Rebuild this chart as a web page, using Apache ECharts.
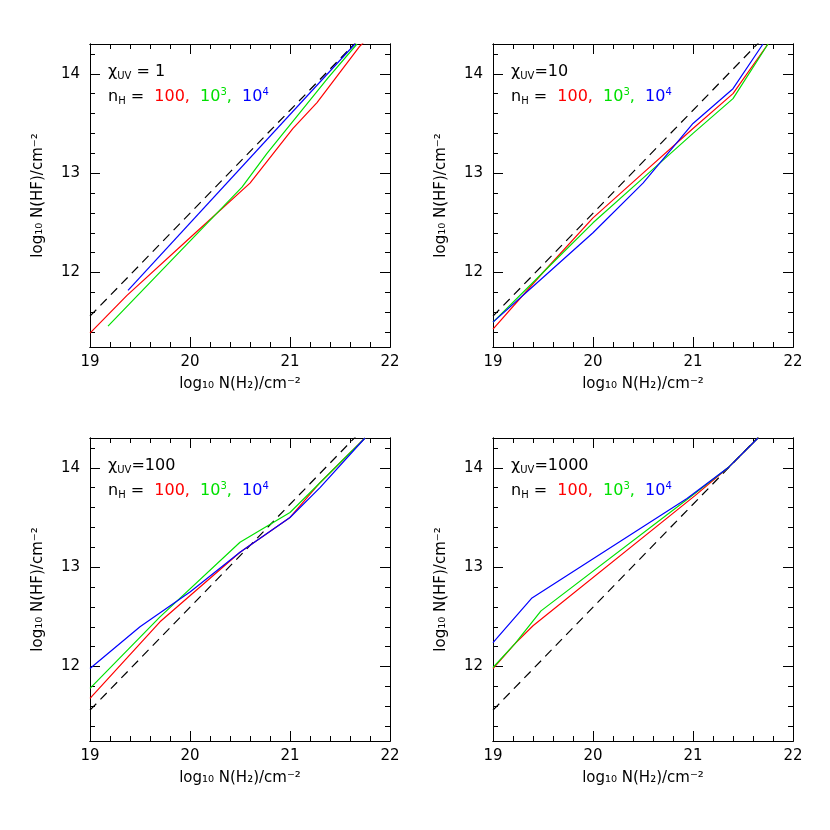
<!DOCTYPE html>
<html><head><meta charset="utf-8">
<script src="https://cdn.jsdelivr.net/npm/echarts@6/dist/echarts.min.js"></script>
<style>html,body{margin:0;padding:0;background:#fff}#c{width:830px;height:830px}</style>
</head><body><div id="c"></div>
<script>
const chiLabels = ['1','10','100','1000'];
const xTicks = [19,20,21,22];
const yTicks = [12,13,14];
const dashed = [[19,11.56],[21.75,14.41]];
const red = [
 [[19,11.39],[19.37,11.77],[20,12.35],[20.6,12.9],[21.03,13.45],[21.27,13.71],[21.7,14.28],[21.75,14.33]],
 [[19,11.43],[19.5,12.0],[20,12.55],[20.5,13.0],[21,13.45],[21.4,13.8],[21.75,14.3]],
 [[19,11.68],[19.7,12.45],[20.5,13.15],[21,13.5],[21.3,13.85],[21.75,14.3]],
 [[19,11.98],[19.22,12.23],[19.4,12.41],[21.02,13.72],[21.35,14.0],[21.65,14.3]]
];
const green = [
 [[19.18,11.46],[20.52,12.86],[20.77,13.2],[21.38,13.96],[21.67,14.3]],
 [[19,11.5],[19.5,12.0],[20,12.5],[20.5,12.95],[21,13.4],[21.4,13.75],[21.75,14.3]],
 [[19,11.78],[19.7,12.5],[20.5,13.25],[21,13.55],[21.3,13.85],[21.75,14.3]],
 [[19,11.99],[19.22,12.23],[19.48,12.56],[20.94,13.68],[21.35,14.0],[21.65,14.3]]
];
const blue = [
 [[19.38,11.82],[21.65,14.3]],
 [[19,11.5],[19.5,11.95],[20,12.4],[20.5,12.9],[21,13.5],[21.4,13.85],[21.7,14.3]],
 [[19,11.98],[19.5,12.4],[20,12.75],[20.5,13.15],[21,13.5],[21.3,13.8],[21.75,14.3]],
 [[19,12.24],[19.39,12.69],[20.94,13.69],[21.35,14.0],[21.65,14.3]]
];

const grids=[{left:90,top:44},{left:493,top:44},{left:90,top:438},{left:493,top:438}];
const W=300,H=303;
const xMinor=[],yMinor=[];
for(let i=0;i<=15;i++) xMinor.push(+(19+i*0.2).toFixed(1));
for(let i=0;i<=16;i++){const v=+(11.4+i*0.2).toFixed(1); if(v<14.3) yMinor.push(v);}
const option={animation:false,grid:[],xAxis:[],yAxis:[],series:[],graphic:[]};
const lab={fontFamily:'DejaVu Sans',fontSize:15,color:'#000'};
grids.forEach((g,i)=>{
  option.grid.push({left:g.left,top:g.top,width:W,height:H});
  const xb={gridIndex:i,type:'value',min:19,max:22,splitLine:{show:false},axisLine:{lineStyle:{color:'#000'}}};
  const yb={gridIndex:i,type:'value',min:11.25,max:14.3,splitLine:{show:false},axisLine:{lineStyle:{color:'#000'}}};
  const xi=option.xAxis.length, yi=option.yAxis.length;
  option.xAxis.push(Object.assign({},xb,{position:'bottom',name:'log₁₀ N(H₂)/cm⁻²',nameLocation:'middle',nameGap:30,nameTextStyle:lab,
    axisLabel:Object.assign({customValues:xTicks,margin:8},lab),axisTick:{inside:true,length:10,customValues:xTicks,lineStyle:{color:'#000'}}}));
  option.xAxis.push(Object.assign({},xb,{position:'bottom',axisLabel:{show:false},axisTick:{inside:true,length:5,customValues:xMinor,lineStyle:{color:'#000'}}}));
  option.xAxis.push(Object.assign({},xb,{position:'top',axisLabel:{show:false},axisTick:{inside:true,length:10,customValues:xTicks,lineStyle:{color:'#000'}}}));
  option.xAxis.push(Object.assign({},xb,{position:'top',axisLabel:{show:false},axisTick:{inside:true,length:5,customValues:xMinor,lineStyle:{color:'#000'}}}));
  option.yAxis.push(Object.assign({},yb,{position:'left',name:'log₁₀ N(HF)/cm⁻²',nameLocation:'middle',nameGap:44,nameTextStyle:lab,
    axisLabel:Object.assign({customValues:yTicks,margin:10},lab),axisTick:{inside:true,length:10,customValues:yTicks,lineStyle:{color:'#000'}}}));
  option.yAxis.push(Object.assign({},yb,{position:'left',axisLabel:{show:false},axisTick:{inside:true,length:5,customValues:yMinor,lineStyle:{color:'#000'}}}));
  option.yAxis.push(Object.assign({},yb,{position:'right',axisLabel:{show:false},axisTick:{inside:true,length:10,customValues:yTicks,lineStyle:{color:'#000'}}}));
  option.yAxis.push(Object.assign({},yb,{position:'right',axisLabel:{show:false},axisTick:{inside:true,length:5,customValues:yMinor,lineStyle:{color:'#000'}}}));
  const mk=(data,color,dash)=>({type:'line',xAxisIndex:xi,yAxisIndex:yi,data,showSymbol:false,clip:true,
    lineStyle:{color,width:1.2,type:dash?[9,6]:'solid'}});
  option.series.push(mk(dashed,'#000',true),mk(red[i],'#ff0000'),mk(green[i],'#00e000'),mk(blue[i],'#0000ff'));
  const eq = i===0?' = ':'=';
  option.graphic.push({type:'text',left:g.left+18,top:g.top+20,style:{
    text:'{a|χ}{s|UV}{a|'+eq+chiLabels[i]+'}',rich:{a:{fontFamily:'DejaVu Sans',fontSize:16,fill:'#000'},s:{fontFamily:'DejaVu Sans',fontSize:10,fill:'#000',padding:[8,0,0,0]}}}});
  option.graphic.push({type:'text',left:g.left+18,top:g.top+43,style:{
    text:'{a|n}{s|H}{a| =  }{r|100,  }{g|10}{gs|3}{g|,  }{b|10}{bs|4}',
    rich:{a:{fontFamily:'DejaVu Sans',fontSize:16,fill:'#000'},s:{fontFamily:'DejaVu Sans',fontSize:10,fill:'#000',padding:[8,0,0,0]},
      r:{fontFamily:'DejaVu Sans',fontSize:16,fill:'#ff0000'},g:{fontFamily:'DejaVu Sans',fontSize:16,fill:'#00e000'},
      gs:{fontFamily:'DejaVu Sans',fontSize:10,fill:'#00e000',padding:[0,0,10,0]},
      b:{fontFamily:'DejaVu Sans',fontSize:16,fill:'#0000ff'},bs:{fontFamily:'DejaVu Sans',fontSize:10,fill:'#0000ff',padding:[0,0,10,0]}}}});
});
const ch=echarts.init(document.getElementById('c'));
ch.setOption(option);
</script></body></html>
